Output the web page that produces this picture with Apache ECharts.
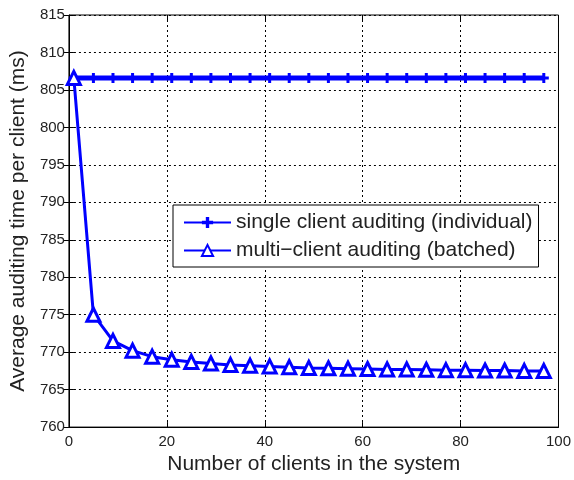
<!DOCTYPE html>
<html>
<head>
<meta charset="utf-8">
<script src="https://cdn.jsdelivr.net/npm/echarts@6/dist/echarts.min.js"></script>
<style>
  html, body { margin: 0; padding: 0; background: #fff; }
  #chart { width: 574px; height: 480px; }
</style>
</head>
<body>
<div id="chart"></div>
<script>
// Number of clients sampled
const clients = [1, 5, 9, 13, 17, 21, 25, 29, 33, 37, 41, 45, 49, 53, 57, 61, 65, 69, 73, 77, 81, 85, 89, 93, 97];
// Average auditing time per client (ms)
const singleAuditing = [806.6, 806.6, 806.6, 806.6, 806.6, 806.6, 806.6, 806.6, 806.6, 806.6, 806.6, 806.6, 806.6,
  806.6, 806.6, 806.6, 806.6, 806.6, 806.6, 806.6, 806.6, 806.6, 806.6, 806.6, 806.6];
const batchedAuditing = [806.6, 775.0, 771.5, 770.2, 769.4, 769.0, 768.7, 768.5, 768.3, 768.2, 768.1, 768.0, 767.9,
  767.85, 767.8, 767.75, 767.7, 767.7, 767.65, 767.6, 767.6, 767.55, 767.55, 767.5, 767.5];
const seriesNames = ['single client auditing (individual)', 'multi\u2212client auditing (batched)'];
const xTitle = 'Number of clients in the system';
const yTitle = 'Average auditing time per client (ms)';

const FONT = '"Liberation Sans", Arial, sans-serif';
const TEXT = '#222';
const BLUE = '#0000ff';
const PLUS = 'path://M3.5,0h3v10h-3z M0,3.5h10v3h-10z';

const pairs = (xs, ys) => xs.map((x, i) => [x, ys[i]]);

const dotted = { color: '#000', width: 1, type: [2, 3] };
const innerTick = { show: true, inside: true, length: 5, lineStyle: { color: '#000' } };

const chart = echarts.init(document.getElementById('chart'), null, { renderer: 'canvas' });
chart.setOption({
  animation: false,
  backgroundColor: '#fff',
  grid: {
    left: 67, right: 13, top: 15, bottom: 52,
    show: true, borderColor: '#000', borderWidth: 1, backgroundColor: 'transparent'
  },
  legend: {
    left: 173, top: 205,
    orient: 'vertical',
    data: seriesNames,
    itemWidth: 47, itemHeight: 14, itemGap: 7,
    padding: [7, 6, 6, 10],
    backgroundColor: '#fff',
    borderColor: '#000', borderWidth: 1,
    textStyle: { fontFamily: FONT, fontSize: 21, color: TEXT }
  },
  xAxis: [{
    type: 'value', min: 0, max: 100, interval: 20,
    name: xTitle, nameLocation: 'middle', nameGap: 25,
    nameTextStyle: { fontFamily: FONT, fontSize: 21, color: TEXT },
    axisLine: { show: true, lineStyle: { color: '#000' } },
    axisTick: innerTick,
    axisLabel: { fontFamily: FONT, fontSize: 15, color: TEXT, margin: 7 },
    splitLine: { show: true, lineStyle: dotted }
  }, {
    type: 'value', min: 0, max: 100, interval: 20, position: 'top',
    axisLine: { show: false },
    axisTick: innerTick,
    axisLabel: { show: false }, splitLine: { show: false }
  }],
  yAxis: [{
    type: 'value', min: 760, max: 815, interval: 5,
    name: yTitle, nameLocation: 'middle', nameGap: 34, nameRotate: 90,
    nameTextStyle: { fontFamily: FONT, fontSize: 21, color: TEXT },
    axisLine: { show: true, lineStyle: { color: '#000' } },
    axisTick: innerTick,
    axisLabel: { fontFamily: FONT, fontSize: 15, color: TEXT, margin: 4 },
    splitLine: { show: true, lineStyle: dotted }
  }, {
    type: 'value', min: 760, max: 815, interval: 5, position: 'right',
    axisLine: { show: false },
    axisTick: innerTick,
    axisLabel: { show: false }, splitLine: { show: false }
  }],
  series: [{
    name: seriesNames[0],
    type: 'line',
    data: pairs(clients, singleAuditing),
    symbol: PLUS, symbolSize: 10,
    showAllSymbol: true,
    lineStyle: { color: BLUE, width: 5 },
    itemStyle: { color: BLUE, borderWidth: 0 },
    z: 3
  }, {
    name: seriesNames[1],
    type: 'line',
    data: pairs(clients, batchedAuditing),
    symbol: 'triangle', symbolSize: 13,
    showAllSymbol: true,
    lineStyle: { color: BLUE, width: 3 },
    itemStyle: { color: '#fff', borderColor: BLUE, borderWidth: 3 },
    z: 4
  }]
});
</script>
</body>
</html>
